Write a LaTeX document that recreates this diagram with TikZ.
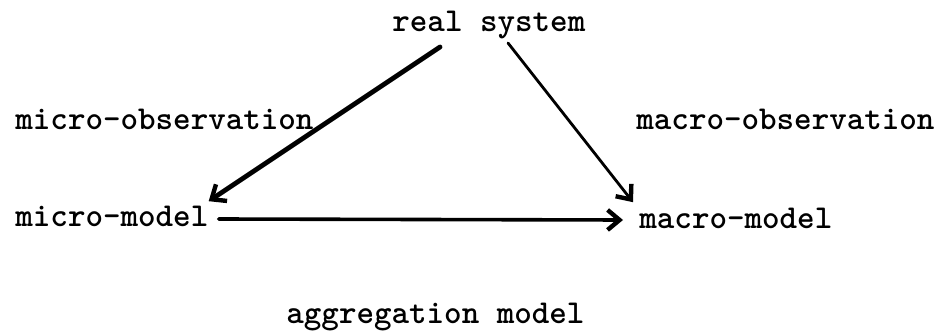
\documentclass[tikz,border=0pt]{standalone}
\usetikzlibrary{arrows.meta, positioning, calc}
\tikzset{
    label/.style={anchor=base west, inner sep=0pt, font=\fontsize{16.7}{20}\selectfont\ttfamily\bfseries},
    arrow/.style={-{Straight Barb[length=6pt, width=10pt, line width=2.2pt]}, line cap=round}
}

\begin{document}
\begin{tikzpicture}[x=0.5pt, y=-0.5pt]
    \useasboundingbox (0,0) rectangle (941,331);

    \node[label] (real) at (392,32) {real system};
    \node[label] (microobs) at (15,130) {micro-observation};
    \node[label] (macroobs) at (636,130) {macro-observation};
    \node[label] (micromodel) at (15,227) {micro-model};
    \node[label] (macromodel) at (639,228) {macro-model};
    \node[label] (aggr) at (286,323) {aggregation model};

    \draw[arrow, line width=2.4pt] ([shift={(48,15)}]real.base west) -- ([shift={(0,-5)}]micromodel.north east);
    \draw[arrow, line width=1.4pt] ([shift={(116,11)}]real.base west) -- ([shift={(-6,-5)}]macromodel.north west);
    \draw[arrow, line width=1.8pt] ([shift={(10,-8)}]micromodel.base east) -- ([shift={(-16,-8)}]macromodel.base west);

\end{tikzpicture}
\end{document}
